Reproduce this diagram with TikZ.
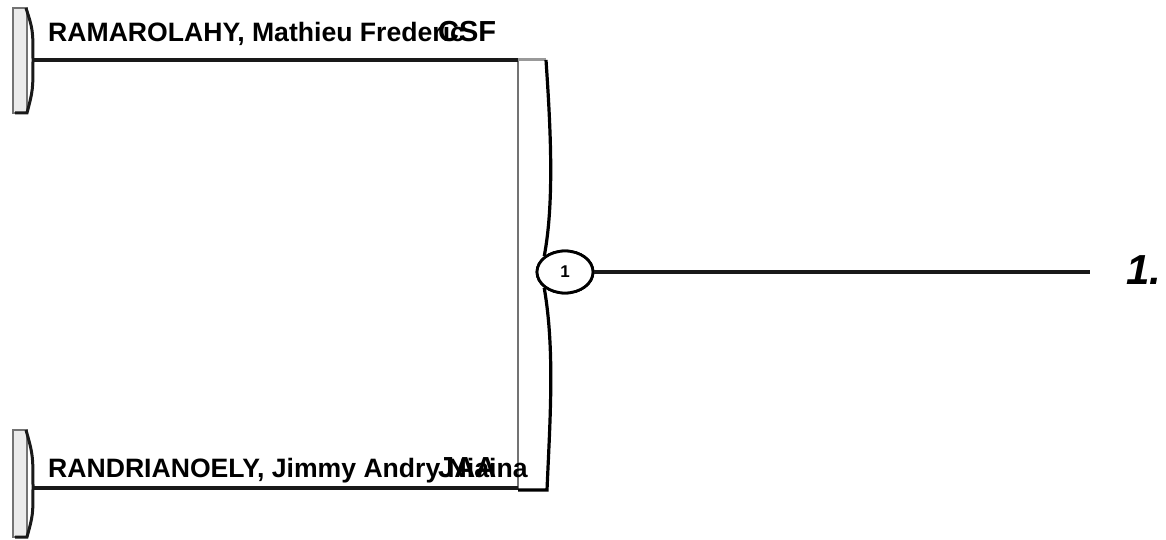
\documentclass[tikz,border=0pt]{standalone}
\usepackage{fontspec}
\setmainfont{Liberation Sans}
\usetikzlibrary{shapes.geometric}
\tikzset{
  wire/.style={line width=3.2pt, black!90},
  tabbox/.style={draw=black!55, line width=1.6pt, fill=black!8},
  tabedge/.style={line width=3pt, black!90},
  personlbl/.style={anchor=base west, inner sep=0pt, font=\bfseries\fontsize{26.6}{30}\selectfont},
  codelbl/.style={anchor=base west, inner sep=0pt, font=\bfseries\fontsize{29}{32}\selectfont},
  seed/.style={ellipse, draw, line width=2.8pt, fill=white, minimum width=56pt, minimum height=42pt, inner sep=0pt, font=\bfseries\fontsize{17}{18}\selectfont},
  resultlbl/.style={anchor=west, inner sep=0pt, font=\bfseries\itshape\fontsize{42}{44}\selectfont}
}
\begin{document}
\begin{tikzpicture}[x=1pt,y=-1pt]
\useasboundingbox (0,0) rectangle (1166,540);
% top tab
\draw[tabbox] (13,8) rectangle (27,113);
\draw[tabedge] (26,8) .. controls (33,30) .. (33,60) .. controls (33,90) .. (27,113) -- (15,113);
\coordinate (t1) at (33,60);
% bottom tab
\draw[tabbox] (13,430) rectangle (27,537);
\draw[tabedge] (26,430) .. controls (33,455) .. (33,488) .. controls (33,515) .. (27,537) -- (15,537);
\coordinate (t2) at (33,488);
% bracket
\draw[draw=black!55, line width=1.8pt] (518,60) -- (518,490);
\draw[draw=black!40, line width=3pt] (518,60) -- (546,60);
\node[seed] (s1) at (565,272) {1};
\coordinate (bt) at (546,60);
\coordinate (bb) at (547,490);
\draw[line width=3.2pt] (bt) .. controls (550,120) and (555,200) .. (s1.north west);
\draw[line width=3.2pt] (s1.south west) .. controls (555,350) and (550,420) .. (bb) -- (518,490);
\node[seed] at (565,272) {1};
% wires
\coordinate (j1) at (518,60);
\coordinate (j2) at (518,488);
\draw[wire] (t1) -- (j1);
\draw[wire] (t2) -- (j2);
\coordinate (r1) at (1090,272);
\draw[wire] (s1.east) -- (r1);
% texts
\node[personlbl] (n1) at (48,42) {RAMAROLAHY, Mathieu Frederic};
\node[codelbl] (c1) at (438,42) {CSF};
\node[personlbl] (n2) at (48,477) {RANDRIANOELY, Jimmy Andry Niaina};
\node[codelbl] (c2) at (438,477) {JAA};
\node[resultlbl] (res) at (1126,270) {1.};
\end{tikzpicture}
\end{document}
